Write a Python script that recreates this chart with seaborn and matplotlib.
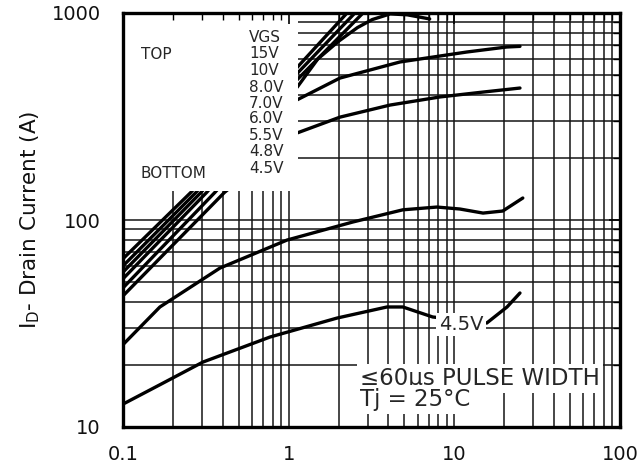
import numpy as np
import pandas as pd
import matplotlib
matplotlib.use("Agg")
import matplotlib.pyplot as plt
from matplotlib.patches import Rectangle
from matplotlib.ticker import FixedLocator, FixedFormatter, NullFormatter, LogLocator
import seaborn as sns

# ---------------- data ----------------
vgs_labels = ["15V", "10V", "8.0V", "7.0V", "6.0V", "5.5V", "4.8V", "4.5V"]

vds_15v = [0.1, 0.257, 1.13, 2.25]
id_15v = [65, 136, 548, 1000]

vds_10v = [0.1, 0.276, 1.13, 2.51]
id_10v = [60, 136, 512, 1000]

vds_8v = [0.1, 0.296, 1.13, 2.81]
id_8v = [56, 136, 478, 1000]

vds_7v = [0.1, 0.32, 1.13, 1.5, 2.0, 2.6, 3.2, 4.1, 5.2, 7.1]
id_7v = [52, 136, 440, 600, 730, 850, 930, 990, 980, 936]

vds_6v = [0.1, 0.359, 1.12, 2.04, 4.7, 11.9, 20.7, 24.9]
id_6v = [47, 136, 380, 485, 580, 648, 685, 690]

vds_55v = [0.1, 0.41, 1.12, 2.04, 4.08, 8.18, 14.9, 24.9]
id_55v = [43, 136, 263, 314, 359, 393, 415, 434]

vds_48v = [0.1, 0.167, 0.385, 0.977, 2.44, 4.89, 7.85, 10.8, 14.9, 19.6, 25.9]
id_48v = [25.0, 38.0, 58.6, 80.0, 97.8, 112, 115.5, 113, 108, 110.5, 127.7]

vds_45v = [0.1, 0.167, 0.304, 0.771, 1.96, 3.92, 4.89, 7.4, 15.7, 20.8, 24.9]
id_45v = [12.9, 16.0, 20.6, 27.2, 33.6, 38.0, 38.0, 34.0, 31.8, 38.0, 44.4]

x_ticks = [0.1, 1, 10, 100]
x_ticklabels = ["0.1", "1", "10", "100"]
y_ticks = [10, 100, 1000]
y_ticklabels = ["10", "100", "1000"]

legend_header = "VGS"
legend_top = "TOP"
legend_bottom = "BOTTOM"
note_lines = ["\u226460\u00b5s PULSE WIDTH", "Tj = 25\u00b0C"]
curve_label = "4.5V"
y_label = r"I$_\mathregular{D}$- Drain Current (A)"

# ---------------- figure ----------------
sns.set_theme(style="white")
plt.rcParams["font.family"] = ["DejaVu Sans"]

W, H = 641, 467
fig = plt.figure(figsize=(W / 100, H / 100), dpi=100)
L, R, T, B = 123, 620, 13, 427
ax = fig.add_axes([L / W, 1 - B / H, (R - L) / W, (B - T) / H])

def fx(px):
    return (px - L) / (R - L)

def fy(py):
    return (B - py) / (B - T)

series = [
    (vds_15v, id_15v), (vds_10v, id_10v), (vds_8v, id_8v), (vds_7v, id_7v),
    (vds_6v, id_6v), (vds_55v, id_55v), (vds_48v, id_48v), (vds_45v, id_45v),
]
frames = []
for lab, (xs, ys) in zip(vgs_labels, series):
    frames.append(pd.DataFrame({"vds": xs, "id": ys, "vgs": lab}))
df = pd.concat(frames, ignore_index=True)

ax.set_xscale("log")
ax.set_yscale("log")
ax.set_xlim(0.1, 100)
ax.set_ylim(10, 1000)

sns.lineplot(data=df, x="vds", y="id", hue="vgs", hue_order=vgs_labels,
             palette={v: "black" for v in vgs_labels}, estimator=None,
             sort=False, legend=False, linewidth=2.4, ax=ax)
for ln in ax.lines:
    ln.set_solid_capstyle("round")
    ln.set_solid_joinstyle("round")
    ln.set_zorder(2)

# grid (drawn manually so the white panels can hide it)
grid_kw = dict(color="#151515", lw=1.1, zorder=1)
for d in (0.1, 1, 10):
    for k in range(2, 10):
        ax.axvline(d * k, **grid_kw)
for d in (1, 10):
    ax.axvline(d, **grid_kw)
for d in (10, 100):
    for k in range(2, 10):
        ax.axhline(d * k, **grid_kw)
ax.axhline(100, **grid_kw)

# white legend panel (hides grid and curves)
ax.add_patch(Rectangle((0, fy(191)), fx(298), 1 - fy(191), transform=ax.transAxes,
                       facecolor="white", edgecolor="none", zorder=3))

# ticks
ax.xaxis.set_major_locator(FixedLocator(x_ticks))
ax.xaxis.set_major_formatter(FixedFormatter(x_ticklabels))
ax.yaxis.set_major_locator(FixedLocator(y_ticks))
ax.yaxis.set_major_formatter(FixedFormatter(y_ticklabels))
ax.xaxis.set_minor_locator(LogLocator(base=10, subs=np.arange(2, 10)))
ax.yaxis.set_minor_locator(LogLocator(base=10, subs=np.arange(2, 10)))
ax.xaxis.set_minor_formatter(NullFormatter())
ax.yaxis.set_minor_formatter(NullFormatter())
ax.tick_params(which="both", direction="in", top=True, right=True, color="black")
ax.tick_params(which="major", length=8, width=1.2, labelsize=14, labelcolor="#111111")
ax.tick_params(which="minor", length=5, width=1.0)
ax.tick_params(axis="x", which="major", pad=13)
ax.tick_params(axis="y", which="major", pad=16)
ax.xaxis.set_zorder(4.5)
ax.yaxis.set_zorder(4.5)

for sp in ax.spines.values():
    sp.set_linewidth(2.4)
    sp.set_color("black")
    sp.set_zorder(5)

ax.set_xlabel("")
ax.set_ylabel(y_label, fontsize=15.5, color="#111111")
ax.yaxis.set_label_coords(fx(30), 0.5)
ax.yaxis.label.set_va("center")

# legend texts
leg_base = [58, 75, 92, 108, 123, 140, 156, 173]
ax.text(fx(249), fy(42), legend_header, transform=ax.transAxes, fontsize=11,
        ha="left", va="baseline", zorder=6)
for lab, py in zip(vgs_labels, leg_base):
    ax.text(fx(249), fy(py), lab, transform=ax.transAxes, fontsize=11,
            ha="left", va="baseline", zorder=6)
ax.text(fx(141), fy(59), legend_top, transform=ax.transAxes, fontsize=11,
        ha="left", va="baseline", zorder=6)
ax.text(fx(141), fy(178), legend_bottom, transform=ax.transAxes, fontsize=11,
        ha="left", va="baseline", zorder=6)

# annotations with white background
box = dict(boxstyle="square,pad=0.12", facecolor="white", edgecolor="none")
ax.text(fx(360), fy(385), note_lines[0], transform=ax.transAxes, fontsize=16.5,
        ha="left", va="baseline", zorder=6, bbox=box)
ax.text(fx(360), fy(406), note_lines[1], transform=ax.transAxes, fontsize=16.5,
        ha="left", va="baseline", zorder=6, bbox=box)
ax.text(fx(461), fy(330), curve_label, transform=ax.transAxes, fontsize=14,
        ha="center", va="baseline", zorder=6, bbox=box)

fig.savefig("out.png", dpi=100, facecolor="white")
